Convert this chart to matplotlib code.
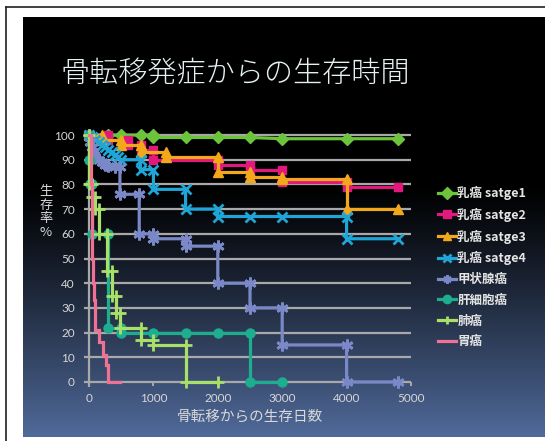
import numpy as np
import matplotlib
matplotlib.use("Agg")
import matplotlib.pyplot as plt
from matplotlib.lines import Line2D

plt.rcParams['font.family'] = ['Noto Sans CJK JP', 'DejaVu Sans']

# ---------------- data ----------------
title = "骨転移発症からの生存時間"
xlabel = "骨転移からの生存日数"
ylabel = "生存率%"
xticks = [0, 1000, 2000, 3000, 4000, 5000]
yticks = [0, 10, 20, 30, 40, 50, 60, 70, 80, 90, 100]

labels = ["乳癌 satge1", "乳癌 satge2", "乳癌 satge3", "乳癌 satge4",
          "甲状腺癌", "肝細胞癌", "肺癌", "胃癌"]

s1_x = [0, 300, 500, 800, 1000, 1000, 1500, 2000, 2500, 3000, 4000, 4800]
s1_y = [100, 100, 100, 100, 100, 99, 99, 99, 99, 98.5, 98.5, 98.5]

s2_x = [0, 300, 300, 600, 600, 800, 800, 1000, 1000, 2000, 2000, 2500, 2500, 3000, 3000, 4000, 4000, 4800]
s2_y = [100, 100, 98, 98, 96, 96, 94, 94, 90, 90, 88, 88, 86, 86, 81, 81, 79, 79]

s3_x = [0, 200, 200, 500, 500, 800, 800, 1200, 1200, 2000, 2000, 2500, 2500, 3000, 3000, 4000, 4000, 4800]
s3_y = [100, 100, 98, 98, 96, 96, 93, 93, 91, 91, 85, 85, 83, 83, 82, 82, 70, 70]

s4_x = [0, 50, 100, 150, 200, 250, 300, 350, 400, 450, 500, 800, 800, 1000, 1000, 1500, 1500, 2000, 2000, 2500, 3000, 4000, 4000, 4800]
s4_y = [100, 99, 98, 97, 96, 95, 94, 93, 92, 91, 90, 90, 86, 86, 78, 78, 70, 70, 67, 67, 67, 67, 58, 58]

thy_x = [0, 20, 40, 60, 80, 100, 150, 200, 250, 300, 400, 480, 480, 780, 780, 1000, 1000, 1500, 1500, 2000, 2000, 2500, 2500, 3000, 3000, 4000, 4000, 4800]
thy_y = [100, 97, 95, 93, 92, 91, 90, 89, 88, 87.5, 87, 87, 76, 76, 60, 60, 58, 58, 55, 55, 40, 40, 30, 30, 15, 15, 0, 0]

liv_x = [0, 0, 20, 20, 40, 40, 300, 300, 500, 500, 1000, 1500, 2000, 2500, 2500, 3000]
liv_y = [100, 90, 90, 80, 80, 60, 60, 22, 22, 20, 20, 20, 20, 20, 0, 0]

lung_x = [0, 0, 50, 50, 100, 100, 150, 150, 280, 280, 350, 350, 420, 420, 480, 480, 800, 800, 1000, 1000, 1500, 1500, 2000]
lung_y = [100, 80, 80, 75, 75, 70, 70, 60, 60, 45, 45, 35, 35, 28, 28, 22, 22, 17, 17, 15, 15, 0, 0]

sto_x = [0, 30, 30, 40, 40, 45, 45, 50, 50, 60, 60, 80, 80, 90, 90, 100, 100, 150, 150, 220, 220, 270, 270, 300, 300, 480]
sto_y = [100, 100, 80, 80, 70, 70, 60, 60, 50, 50, 40, 40, 33, 33, 30, 30, 21, 21, 16, 16, 11, 11, 7, 7, 0, 0]

series_x = [s1_x, s2_x, s3_x, s4_x, thy_x, liv_x, lung_x, sto_x]
series_y = [s1_y, s2_y, s3_y, s4_y, thy_y, liv_y, lung_y, sto_y]

# ---------------- styles ----------------
colors = ['#6CC43C', '#E2197C', '#F2A81A', '#1FA6D6', '#7B88C8', '#1CAE8E', '#A9E06A', '#F27094']
markers = ['D', 's', '^', 'x', (6, 2, 0), 'o', '+', None]
msizes = [6.2, 6.2, 7.2, 7.5, 8.5, 6.5, 8.5, 0]

W, H = 545, 441
fig = plt.figure(figsize=(W / 100, H / 100), dpi=100)
fig.patch.set_facecolor('white')

# outer frame lines
fig.add_artist(Line2D([6 / W, 6 / W], [0, 1 - 7 / H], color='#202020', lw=1.2, transform=fig.transFigure))
fig.add_artist(Line2D([6 / W, 1], [1 - 7 / H, 1 - 7 / H], color='#202020', lw=1.2, transform=fig.transFigure))

# gradient panel
px0, py0, px1, py1 = 23, 17, 545, 437
bg = fig.add_axes([px0 / W, 1 - py1 / H, (px1 - px0) / W, (py1 - py0) / H])
t = np.linspace(0, 1, 400)
ramp = np.clip((t - 0.40) / 0.60, 0, 1) ** 1.15
bottom_col = np.array([80, 106, 154]) / 255.0
img = ramp[:, None, None] * bottom_col[None, None, :]
img = np.repeat(img, 10, axis=1)
bg.imshow(img, aspect='auto', extent=[0, 1, 0, 1], origin='upper')
bg.set_axis_off()

# main axes
x0px, x5000px = 89, 411
y100px, y0px = 135, 382
sx = (x5000px - x0px) / 5000
sy = (y0px - y100px) / 100
xmin, xmax = -150, 5100
ymin, ymax = -3, 103
left = x0px + xmin * sx
right = x0px + xmax * sx
top = y0px - ymax * sy
bot = y0px - ymin * sy
ax = fig.add_axes([left / W, 1 - bot / H, (right - left) / W, (bot - top) / H])
ax.set_facecolor('none')
ax.set_xlim(xmin, xmax)
ax.set_ylim(ymin, ymax)
for sp in ax.spines.values():
    sp.set_visible(False)

grid_c = '#a9a9a9'
ax.hlines(yticks, -70, 5000, color=grid_c, lw=1.6, zorder=1)
ax.vlines(0, -2, 100, color=grid_c, lw=1.6, zorder=1)
ax.vlines(xticks[1:], -1.8, 0, color=grid_c, lw=1.4, zorder=1)

for i in range(8):
    m = markers[i]
    ax.plot(series_x[i], series_y[i], color=colors[i], lw=2.3,
            marker=m if m is not None else None, ms=msizes[i],
            mew=2.0 if m in ('x', '+', (6, 2, 0)) else 1,
            mec=colors[i], mfc=colors[i], label=labels[i],
            zorder=3 + i, clip_on=False, solid_joinstyle='miter')

ax.set_xticks(xticks)
ax.set_yticks(yticks)
ax.set_xticklabels([str(v) for v in xticks])
ax.set_yticklabels([str(v) for v in yticks])
ax.tick_params(length=0, colors='#d6d6d6', labelsize=8.5)
ax.tick_params(axis='y', pad=3.2)
ax.tick_params(axis='x', pad=2.5)
for lab in ax.get_xticklabels() + ax.get_yticklabels():
    lab.set_family(['Lato', 'DejaVu Sans'])

# title
fig.text(235 / W, 1 - 73 / H, title, color='#e6f2f2', fontsize=21, ha='center', va='center',
         fontweight='light')
# axis labels
fig.text(250 / W, 1 - 417 / H, xlabel, color='#d8d8d8', fontsize=10.5, ha='center', va='center')
fig.text(46 / W, 1 - 212 / H, "\n".join(list(ylabel)), color='#d8d8d8', fontsize=9.5,
         ha='center', va='center', linespacing=1.05)

leg = ax.legend(loc='upper left', bbox_to_anchor=(438 / W, 1 - 186 / H), bbox_transform=fig.transFigure,
                frameon=False, handlelength=1.4, handletextpad=0.15,
                labelspacing=0.62, borderpad=0, borderaxespad=0, numpoints=1,
                prop={'weight': 'bold', 'size': 9})
for txt in leg.get_texts():
    txt.set_color('#e4e4e4')
for h in leg.legend_handles:
    h.set_markersize(6)

fig.savefig('out.png', dpi=100, facecolor=fig.get_facecolor())
